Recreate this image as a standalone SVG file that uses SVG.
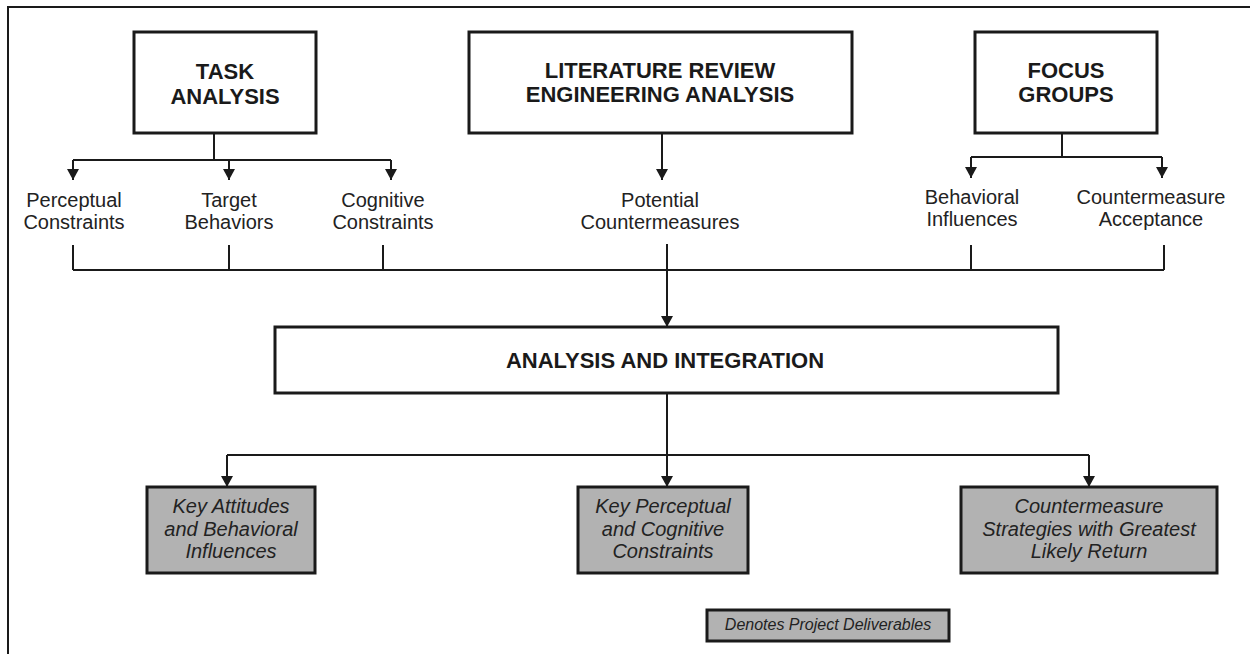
<svg xmlns="http://www.w3.org/2000/svg" width="1250" height="654" viewBox="0 0 1250 654">
<defs>
<marker id="arr" markerWidth="12" markerHeight="12" refX="11" refY="6" orient="auto" markerUnits="userSpaceOnUse" viewBox="0 0 12 12">
<path d="M0,0 L11,6 L0,12 Z" fill="#1a1a1a"/>
</marker>
<style>
.box{fill:#fff;stroke:#1a1a1a;stroke-width:3}
.del{fill:#b2b2b2;stroke:#1a1a1a;stroke-width:3}
.ln{fill:none;stroke:#1a1a1a;stroke-width:2}
.t{font-family:"Liberation Sans",Arial,sans-serif;font-weight:bold;font-size:22px;fill:#1a1a1a;text-anchor:middle}
.l{font-family:"Liberation Sans",Arial,sans-serif;font-size:20px;fill:#222;text-anchor:middle}
.d{font-family:"Liberation Sans",Arial,sans-serif;font-size:20px;font-style:italic;fill:#222;text-anchor:middle}
.g{font-family:"Liberation Sans",Arial,sans-serif;font-size:16px;font-style:italic;fill:#222;text-anchor:middle}
</style>
</defs>
<rect width="1250" height="654" fill="#fff"/>
<path class="ln" d="M8,654 V7 H1250" stroke-width="3"/>

<g id="connectors">
<path class="ln" d="M214,133 V160 M73,160 H391"/>
<path class="ln" d="M73,160 V180" marker-end="url(#arr)"/>
<path class="ln" d="M229,160 V180" marker-end="url(#arr)"/>
<path class="ln" d="M391,160 V180" marker-end="url(#arr)"/>
<path class="ln" d="M662,133 V180" marker-end="url(#arr)"/>
<path class="ln" d="M1062,133 V157 M971,157 H1162"/>
<path class="ln" d="M971,157 V178" marker-end="url(#arr)"/>
<path class="ln" d="M1162,157 V178" marker-end="url(#arr)"/>
<path class="ln" d="M73,245 V270 M229,245 V270 M383,245 V270 M971,245 V270 M1164,245 V270 M73,270 H1164"/>
<path class="ln" d="M667,244 V327" marker-end="url(#arr)"/>
<path class="ln" d="M667,393 V455 M227,455 H1089"/>
<path class="ln" d="M227,455 V487" marker-end="url(#arr)"/>
<path class="ln" d="M667,455 V487" marker-end="url(#arr)"/>
<path class="ln" d="M1089,455 V487" marker-end="url(#arr)"/>
</g>

<g id="task">
<rect class="box" x="134" y="32" width="182" height="101"/>
<text class="t" x="225" y="79">TASK</text>
<text class="t" x="225" y="104">ANALYSIS</text>
</g>
<g id="literature">
<rect class="box" x="469" y="32" width="383" height="101"/>
<text class="t" x="660" y="78">LITERATURE REVIEW</text>
<text class="t" x="660" y="102">ENGINEERING ANALYSIS</text>
</g>
<g id="focus">
<rect class="box" x="975" y="32" width="182" height="101"/>
<text class="t" x="1066" y="78">FOCUS</text>
<text class="t" x="1066" y="102">GROUPS</text>
</g>

<g id="perceptual"><text class="l" x="74" y="207">Perceptual</text><text class="l" x="74" y="229">Constraints</text></g>
<g id="target"><text class="l" x="229" y="207">Target</text><text class="l" x="229" y="229">Behaviors</text></g>
<g id="cognitive"><text class="l" x="383" y="207">Cognitive</text><text class="l" x="383" y="229">Constraints</text></g>
<g id="potential"><text class="l" x="660" y="207">Potential</text><text class="l" x="660" y="229">Countermeasures</text></g>
<g id="behavioral"><text class="l" x="972" y="204">Behavioral</text><text class="l" x="972" y="226">Influences</text></g>
<g id="acceptance"><text class="l" x="1151" y="204">Countermeasure</text><text class="l" x="1151" y="226">Acceptance</text></g>

<g id="integration">
<rect class="box" x="275" y="327" width="783" height="66"/>
<text class="t" x="665" y="368">ANALYSIS AND INTEGRATION</text>
</g>

<g id="attitudes">
<rect class="del" x="147" y="487" width="168" height="86"/>
<text class="d" x="231" y="513">Key Attitudes</text>
<text class="d" x="231" y="536">and Behavioral</text>
<text class="d" x="231" y="558">Influences</text>
</g>
<g id="constraints">
<rect class="del" x="578" y="487" width="170" height="86"/>
<text class="d" x="663" y="513">Key Perceptual</text>
<text class="d" x="663" y="536">and Cognitive</text>
<text class="d" x="663" y="558">Constraints</text>
</g>
<g id="strategies">
<rect class="del" x="961" y="487" width="256" height="86"/>
<text class="d" x="1089" y="513">Countermeasure</text>
<text class="d" x="1089" y="536">Strategies with Greatest</text>
<text class="d" x="1089" y="558">Likely Return</text>
</g>
<g id="legend">
<rect class="del" x="707" y="610" width="242" height="31"/>
<text class="g" x="828" y="630">Denotes Project Deliverables</text>
</g>
</svg>
